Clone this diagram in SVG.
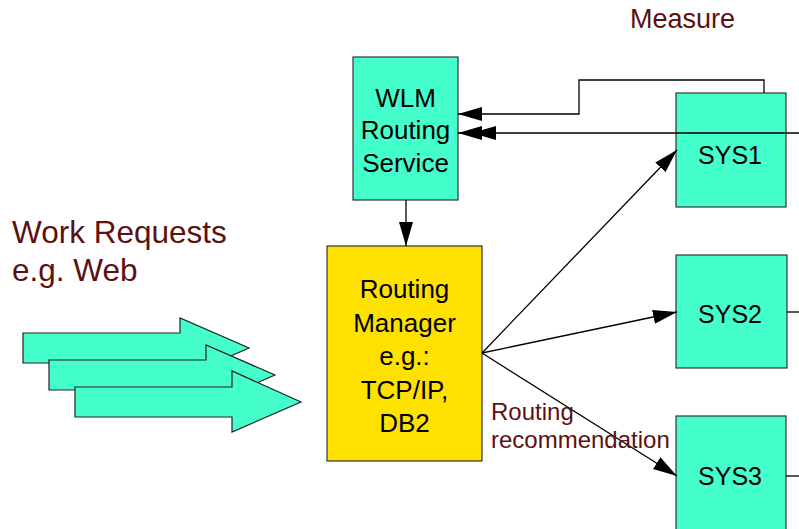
<svg xmlns="http://www.w3.org/2000/svg" width="799" height="529" viewBox="0 0 799 529">
<style>
.box{fill:#44FFCC;stroke:#333;stroke-width:1.2}
.ybox{fill:#FFE100;stroke:#333;stroke-width:1.2}
.t{font-family:"Liberation Sans",Arial,sans-serif;font-size:26px;fill:#000;text-anchor:middle}
.s{font-size:25px}
.m{font-family:"Liberation Sans",Arial,sans-serif;fill:#5C1010}
.c{fill:none;stroke:#000;stroke-width:1.3}
.blk{fill:#44FFCC;stroke:#222;stroke-width:1.2}
</style>
<defs>
<marker id="ah" markerUnits="userSpaceOnUse" markerWidth="26" markerHeight="16" refX="24" refY="7" orient="auto">
<path d="M0,0 L24,7 L0,14 Z" fill="#000"/>
</marker>
</defs>
<rect width="799" height="529" fill="#fff"/>
<g id="work-requests">
<path class="blk" d="M23,333 H180 V318 L249,348 L180,378 V363 H23 Z"/>
<path class="blk" d="M49,360 H206 V345 L275,375 L206,405 V390 H49 Z"/>
<path class="blk" d="M75,387 H232 V371 L301,402 L232,432 V417 H75 Z"/>
<text class="m" x="12" y="243" font-size="31.5">Work Requests</text>
<text class="m" x="12" y="281" font-size="31.5">e.g. Web</text>
</g>
<g id="wlm">
<rect class="box" x="353" y="57" width="105" height="143"/>
<text class="t" x="405.5" y="107">WLM</text>
<text class="t" x="405.5" y="139">Routing</text>
<text class="t" x="405.5" y="172">Service</text>
</g>
<g id="rm">
<rect class="ybox" x="327" y="246" width="155" height="215"/>
<text class="t" x="404.5" y="298">Routing</text>
<text class="t" x="404.5" y="332">Manager</text>
<text class="t" x="404.5" y="365">e.g.:</text>
<text class="t" x="404.5" y="399">TCP/IP,</text>
<text class="t" x="404.5" y="432">DB2</text>
</g>
<g id="sys1">
<rect class="box" x="676" y="93" width="110" height="114"/>
<text class="t s" x="730" y="164">SYS1</text>
</g>
<g id="sys2">
<rect class="box" x="676" y="255" width="111" height="113"/>
<text class="t s" x="730" y="323">SYS2</text>
</g>
<g id="sys3">
<rect class="box" x="676" y="416" width="110" height="120"/>
<text class="t s" x="730" y="485">SYS3</text>
</g>
<g id="connectors">
<path class="c" d="M764,93 V80 H579 V114 H458" marker-end="url(#ah)"/>
<path class="c" d="M799,133 H458" marker-end="url(#ah)"/>
<path d="M472,133 L496,126 L496,140 Z" fill="#000"/>
<path class="c" d="M406,200 V246" marker-end="url(#ah)"/>
<path class="c" d="M482,353 L677,150" marker-end="url(#ah)"/>
<path class="c" d="M482,353 L677,312" marker-end="url(#ah)"/>
<path class="c" d="M482,353 L677,476" marker-end="url(#ah)"/>
<path class="c" d="M787,312 H799"/>
<path class="c" d="M786,476 H799"/>
</g>
<text class="m" x="630" y="28" font-size="27">Measure</text>
<text class="m" x="491" y="420" font-size="24">Routing</text>
<text class="m" x="491" y="448" font-size="24">recommendation</text>
</svg>
